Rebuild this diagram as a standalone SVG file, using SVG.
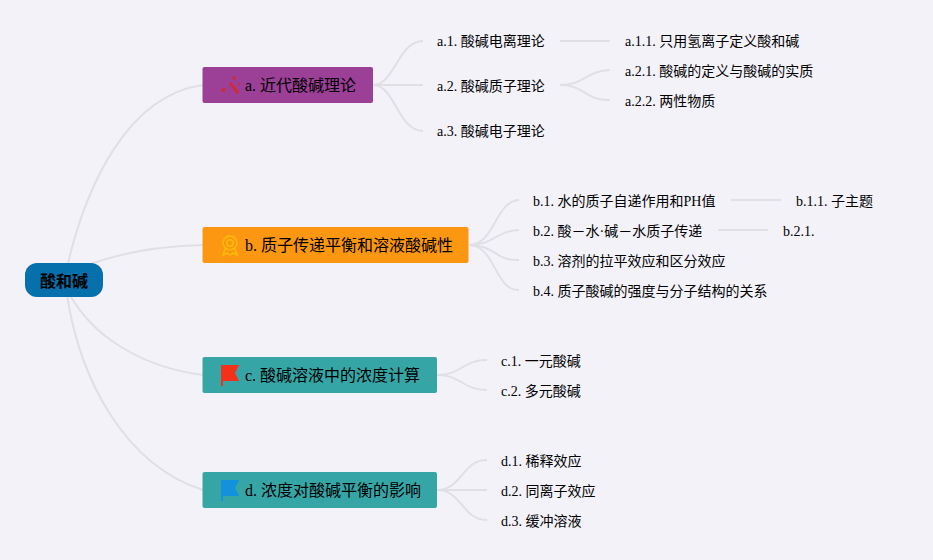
<svg xmlns="http://www.w3.org/2000/svg" width="933" height="560" viewBox="0 0 933 560">
<style>
text{font-family:"Liberation Serif","Noto Sans CJK SC",serif;fill:#000;white-space:pre}
.s{font-size:14px}
.t{font-size:16px}
.r{font-size:16px;font-weight:700}
#connectors path{fill:none;stroke:#e0e0e4;stroke-width:2}
</style>
<rect width="933" height="560" fill="#f3f2f9"/>
<g id="connectors">
<path d="M64 281C85 180 130 95 203 85"/>
<path d="M88 265C120 253 160 246 203 245"/>
<path d="M70 295C92 335 140 367 203 375"/>
<path d="M67 295C80 380 125 465 203 490"/>
<path d="M373 85C395 85 398 41 423 41"/>
<path d="M373 85H423"/>
<path d="M373 85C395 85 398 131 423 131"/>
<path d="M560 41H610"/>
<path d="M560 85C585 85 585 71 610 70"/>
<path d="M560 85C585 85 585 101 610 100"/>
<path d="M469 245C495 245 495 201 519 200"/>
<path d="M469 245C495 245 495 231 519 230"/>
<path d="M469 245C495 245 495 261 519 260"/>
<path d="M469 245C495 245 495 291 519 290"/>
<path d="M731 200H781"/>
<path d="M718 230H768"/>
<path d="M437 375C462 375 462 360 487 360"/>
<path d="M437 375C462 375 462 390 487 390"/>
<path d="M437 490C462 490 462 460 487 460"/>
<path d="M437 490H487"/>
<path d="M437 490C462 490 462 520 487 520"/>
</g>
<g id="root"><rect x="25" y="263" width="78" height="34" rx="12" fill="#0670ad"/><text class="r" x="64" y="287" text-anchor="middle">酸和碱</text></g>
<g id="a"><rect x="202.500" y="67" width="170.500" height="36" rx="2" fill="#9c3f97"/>
<g fill="#d3292f"><path d="M229 84L231 82L239 92L237 94Z"/><circle cx="223.500" cy="90" r="2"/><circle cx="234" cy="78" r="1.800"/><circle cx="239" cy="84" r="1"/></g>
<text class="t" x="245" y="91">a. 近代酸碱理论</text></g>
<g id="b"><rect x="202.500" y="227" width="266" height="36" rx="2" fill="#fb9710"/>
<g fill="none" stroke="#fcb70a" stroke-width="1.800"><circle cx="230" cy="243" r="7"/><circle cx="230" cy="243" r="3.200"/><path d="M225 249L223 255L227 253L230 255L233 253L237 255L235 249"/></g>
<text class="t" x="245" y="251">b. 质子传递平衡和溶液酸碱性</text></g>
<g id="c"><rect x="202.500" y="357" width="234.500" height="36" rx="2" fill="#36a5a6"/>
<path d="M221 365H239L235 373L239 381H223V386H221Z" fill="#f5301a"/>
<text class="t" x="245" y="381">c. 酸碱溶液中的浓度计算</text></g>
<g id="d"><rect x="202.500" y="472" width="234.500" height="36" rx="2" fill="#36a5a6"/>
<path d="M221 480H239L235 488L239 496H223V501H221Z" fill="#1292dc"/>
<text class="t" x="245" y="496">d. 浓度对酸碱平衡的影响</text></g>
<g id="a1"><text class="s" x="437" y="46">a.1. 酸碱电离理论</text></g>
<g id="a2"><text class="s" x="437" y="91">a.2. 酸碱质子理论</text></g>
<g id="a3"><text class="s" x="437" y="136">a.3. 酸碱电子理论</text></g>
<g id="a11"><text class="s" x="625" y="46">a.1.1. 只用氢离子定义酸和碱</text></g>
<g id="a21"><text class="s" x="625" y="76">a.2.1. 酸碱的定义与酸碱的实质</text></g>
<g id="a22"><text class="s" x="625" y="106">a.2.2. 两性物质</text></g>
<g id="b1"><text class="s" x="533" y="206">b.1. 水的质子自递作用和PH值</text></g>
<g id="b2"><text class="s" x="533" y="236">b.2. 酸－水·碱－水质子传递</text></g>
<g id="b3"><text class="s" x="533" y="266">b.3. 溶剂的拉平效应和区分效应</text></g>
<g id="b4"><text class="s" x="533" y="296">b.4. 质子酸碱的强度与分子结构的关系</text></g>
<g id="b11"><text class="s" x="796" y="206">b.1.1. 子主题</text></g>
<g id="b21"><text class="s" x="783" y="236">b.2.1.</text></g>
<g id="c1"><text class="s" x="501" y="366">c.1. 一元酸碱</text></g>
<g id="c2"><text class="s" x="501" y="396">c.2. 多元酸碱</text></g>
<g id="d1"><text class="s" x="501" y="466">d.1. 稀释效应</text></g>
<g id="d2"><text class="s" x="501" y="496">d.2. 同离子效应</text></g>
<g id="d3"><text class="s" x="501" y="526">d.3. 缓冲溶液</text></g>
</svg>
